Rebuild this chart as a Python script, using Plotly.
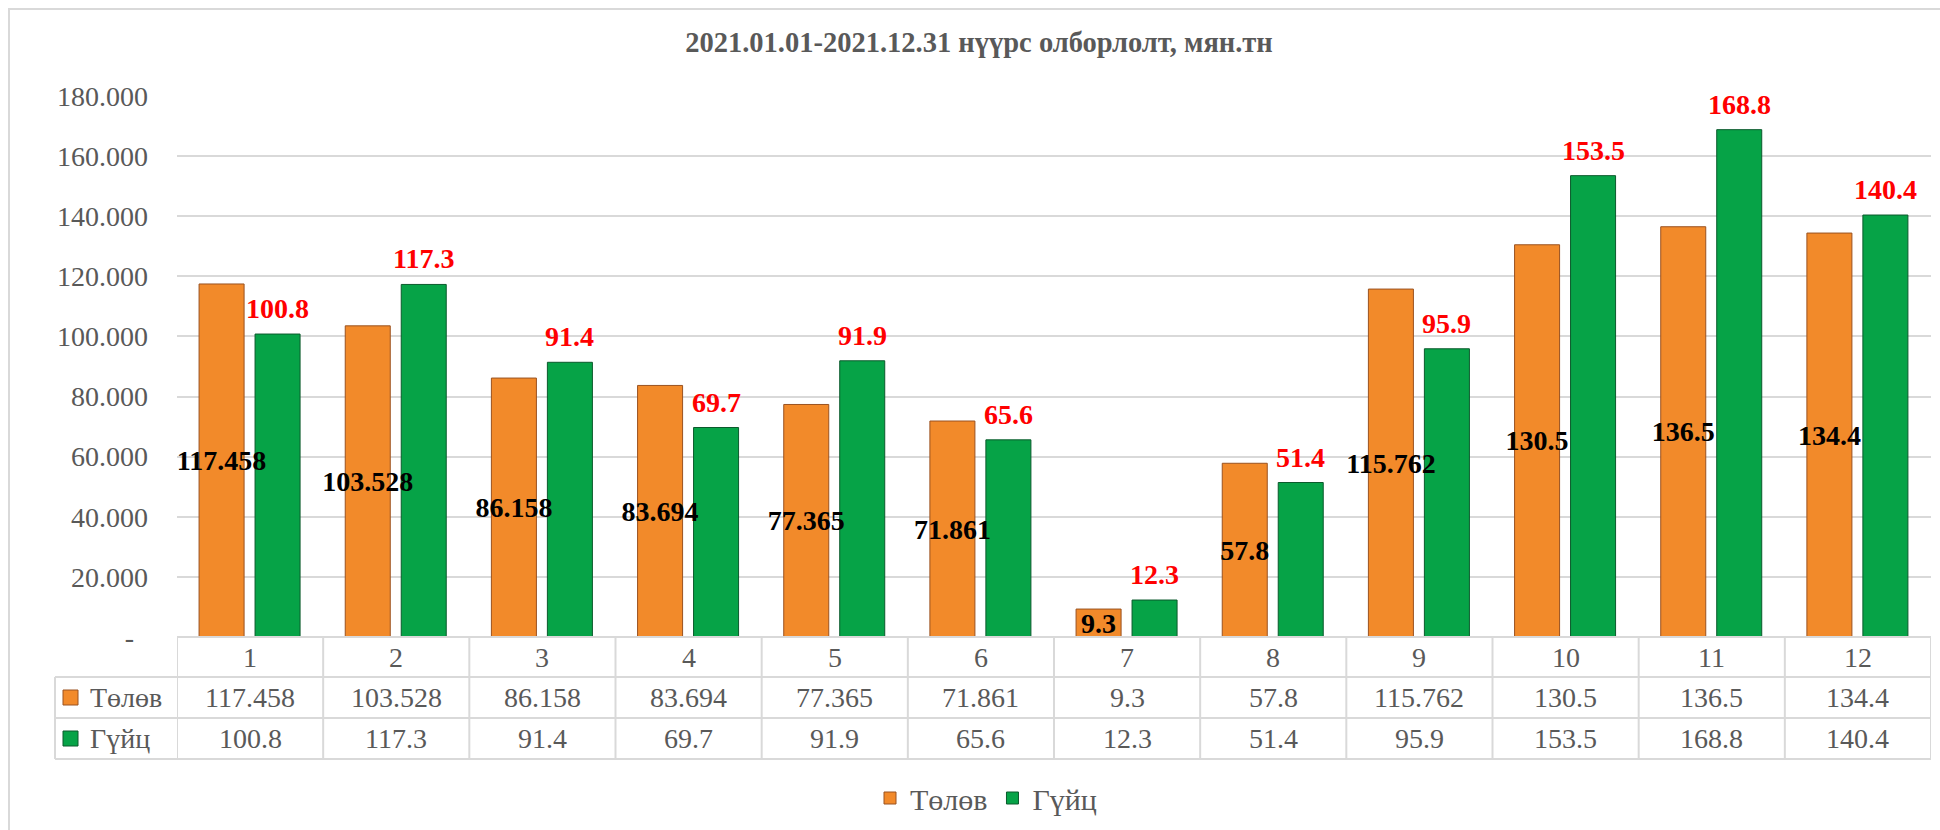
import plotly.graph_objects as go

# ---- data ----
months = [1, 2, 3, 4, 5, 6, 7, 8, 9, 10, 11, 12]
month_labels = ["1", "2", "3", "4", "5", "6", "7", "8", "9", "10", "11", "12"]
series_names = ["Төлөв", "Гүйц"]
plan = [117.458, 103.528, 86.158, 83.694, 77.365, 71.861, 9.3, 57.8, 115.762, 130.5, 136.5, 134.4]
actual = [100.8, 117.3, 91.4, 69.7, 91.9, 65.6, 12.3, 51.4, 95.9, 153.5, 168.8, 140.4]
y_ticks = [0, 20, 40, 60, 80, 100, 120, 140, 160, 180]
y_ticktext = ["-\u00a0\u00a0", "20.000", "40.000", "60.000", "80.000", "100.000",
              "120.000", "140.000", "160.000", "180.000"]
title_text = "2021.01.01-2021.12.31 нүүрс олборлолт, мян.тн"

# ---- style ----
W, H = 1940, 830
ML, MR, MT, MB = 177, 9, 96, 193
PW = W - ML - MR
PH = H - MT - MB
FONT = "Times New Roman, Liberation Serif, serif"
GRAY = "#595959"
LINE = "#D9D9D9"
ORANGE = "#F28A2A"
ORANGE_EDGE = "#9A5220"
GREEN = "#06A347"
GREEN_EDGE = "#0B5A2C"
OR_OFF, GR_OFF, BAR_W = -0.349, 0.034, 0.308


def px_x(px):
    return (px - ML) / PW


def px_y(py):
    return (H - MB - py) / PH


fig = go.Figure()

# green first so orange (inside) labels are drawn on top of it
fig.add_trace(go.Bar(
    x=months, y=actual, name=series_names[1],
    offset=GR_OFF, width=BAR_W,
    marker=dict(color=GREEN, line=dict(color=GREEN_EDGE, width=1)),
    legendrank=2,
))
fig.add_trace(go.Bar(
    x=months, y=plan, name=series_names[0],
    offset=OR_OFF, width=BAR_W,
    marker=dict(color=ORANGE, line=dict(color=ORANGE_EDGE, width=1)),
    text=[str(v) for v in plan], textposition="inside", insidetextanchor="middle",
    textangle=0, constraintext="none", cliponaxis=False,
    textfont=dict(family=FONT, size=28, color="#000000", weight="bold"),
    legendrank=1,
))

shapes = []
annotations = []

# red value labels above the green bars
for m, v in zip(months, actual):
    annotations.append(dict(x=m + GR_OFF + BAR_W / 2, y=v, xref="x", yref="y",
                            text=str(v), showarrow=False, yanchor="bottom",
                            xanchor="center", yshift=8,
                            font=dict(family=FONT, size=28, color="#FF0000",
                                      weight="bold")))

# chart border
shapes.append(dict(type="rect", xref="paper", yref="paper",
                   x0=px_x(9), x1=px_x(W + 20), y0=px_y(H + 20), y1=px_y(9),
                   line=dict(color=LINE, width=2), fillcolor="rgba(0,0,0,0)", layer="below"))

# data table lines
row_lines = [637, 677, 718, 759]
shapes.append(dict(type="line", xref="paper", yref="paper",
                   x0=0, x1=1, y0=px_y(row_lines[0]), y1=px_y(row_lines[0]),
                   line=dict(color=LINE, width=2)))
for py in row_lines[1:]:
    shapes.append(dict(type="line", xref="paper", yref="paper",
                       x0=px_x(55), x1=1, y0=px_y(py), y1=px_y(py),
                       line=dict(color=LINE, width=2)))
shapes.append(dict(type="line", xref="paper", yref="paper",
                   x0=px_x(55), x1=px_x(55), y0=px_y(row_lines[1]), y1=px_y(row_lines[3]),
                   line=dict(color=LINE, width=2)))
for k in range(len(months) + 1):
    xb = months[0] - 0.5 + k
    shapes.append(dict(type="line", xref="x", yref="paper",
                       x0=xb, x1=xb, y0=px_y(row_lines[0]), y1=px_y(row_lines[3]),
                       line=dict(color=LINE, width=2)))

row_centers = [657, 697.5, 738.5]
tfont = dict(family=FONT, size=28, color=GRAY)
for m, lab in zip(months, month_labels):
    annotations.append(dict(x=m, y=px_y(row_centers[0]), xref="x", yref="paper",
                            text=lab, showarrow=False, font=tfont,
                            xanchor="center", yanchor="middle"))
for m, v in zip(months, plan):
    annotations.append(dict(x=m, y=px_y(row_centers[1]), xref="x", yref="paper",
                            text=str(v), showarrow=False, font=tfont,
                            xanchor="center", yanchor="middle"))
for m, v in zip(months, actual):
    annotations.append(dict(x=m, y=px_y(row_centers[2]), xref="x", yref="paper",
                            text=str(v), showarrow=False, font=tfont,
                            xanchor="center", yanchor="middle"))

# legend keys inside the table
for name, color, edge, yc in [(series_names[0], ORANGE, ORANGE_EDGE, row_centers[1]),
                              (series_names[1], GREEN, GREEN_EDGE, row_centers[2])]:
    shapes.append(dict(type="rect", xref="paper", yref="paper",
                       x0=px_x(63), x1=px_x(78), y0=px_y(yc + 7.5), y1=px_y(yc - 7.5),
                       fillcolor=color, line=dict(color=edge, width=1)))
    annotations.append(dict(x=px_x(88), y=px_y(yc), xref="paper", yref="paper",
                            text=name, showarrow=False, font=tfont,
                            xanchor="left", yanchor="middle"))

fig.update_layout(
    width=W, height=H,
    margin=dict(l=ML, r=MR, t=MT, b=MB, autoexpand=False),
    paper_bgcolor="white", plot_bgcolor="white",
    barmode="overlay",
    title=dict(text=title_text, x=979 / W, xanchor="center",
               y=1 - 42 / H, yanchor="middle", yref="container",
               font=dict(family=FONT, size=28.5, color=GRAY, weight="bold")),
    xaxis=dict(range=[months[0] - 0.5, months[-1] + 0.5], showticklabels=False,
               showgrid=False, zeroline=False, showline=False, ticks=""),
    yaxis=dict(range=[0, 180], tickvals=y_ticks, ticktext=y_ticktext,
               showgrid=True, gridcolor=LINE, gridwidth=2, zeroline=False,
               showline=False, ticks="", ticklabelstandoff=28,
               tickfont=dict(family=FONT, size=28, color=GRAY)),
    legend=dict(orientation="h", x=px_x(986), xanchor="center",
                y=px_y(798), yanchor="middle",
                font=dict(family=FONT, size=30, color=GRAY),
                itemwidth=30, bgcolor="rgba(0,0,0,0)"),
    shapes=shapes,
    annotations=annotations,
    showlegend=True,
)

fig.write_html("out.html", config={"displayModeBar": False},
               post_script="document.body.style.margin='0';document.body.style.padding='0';")
